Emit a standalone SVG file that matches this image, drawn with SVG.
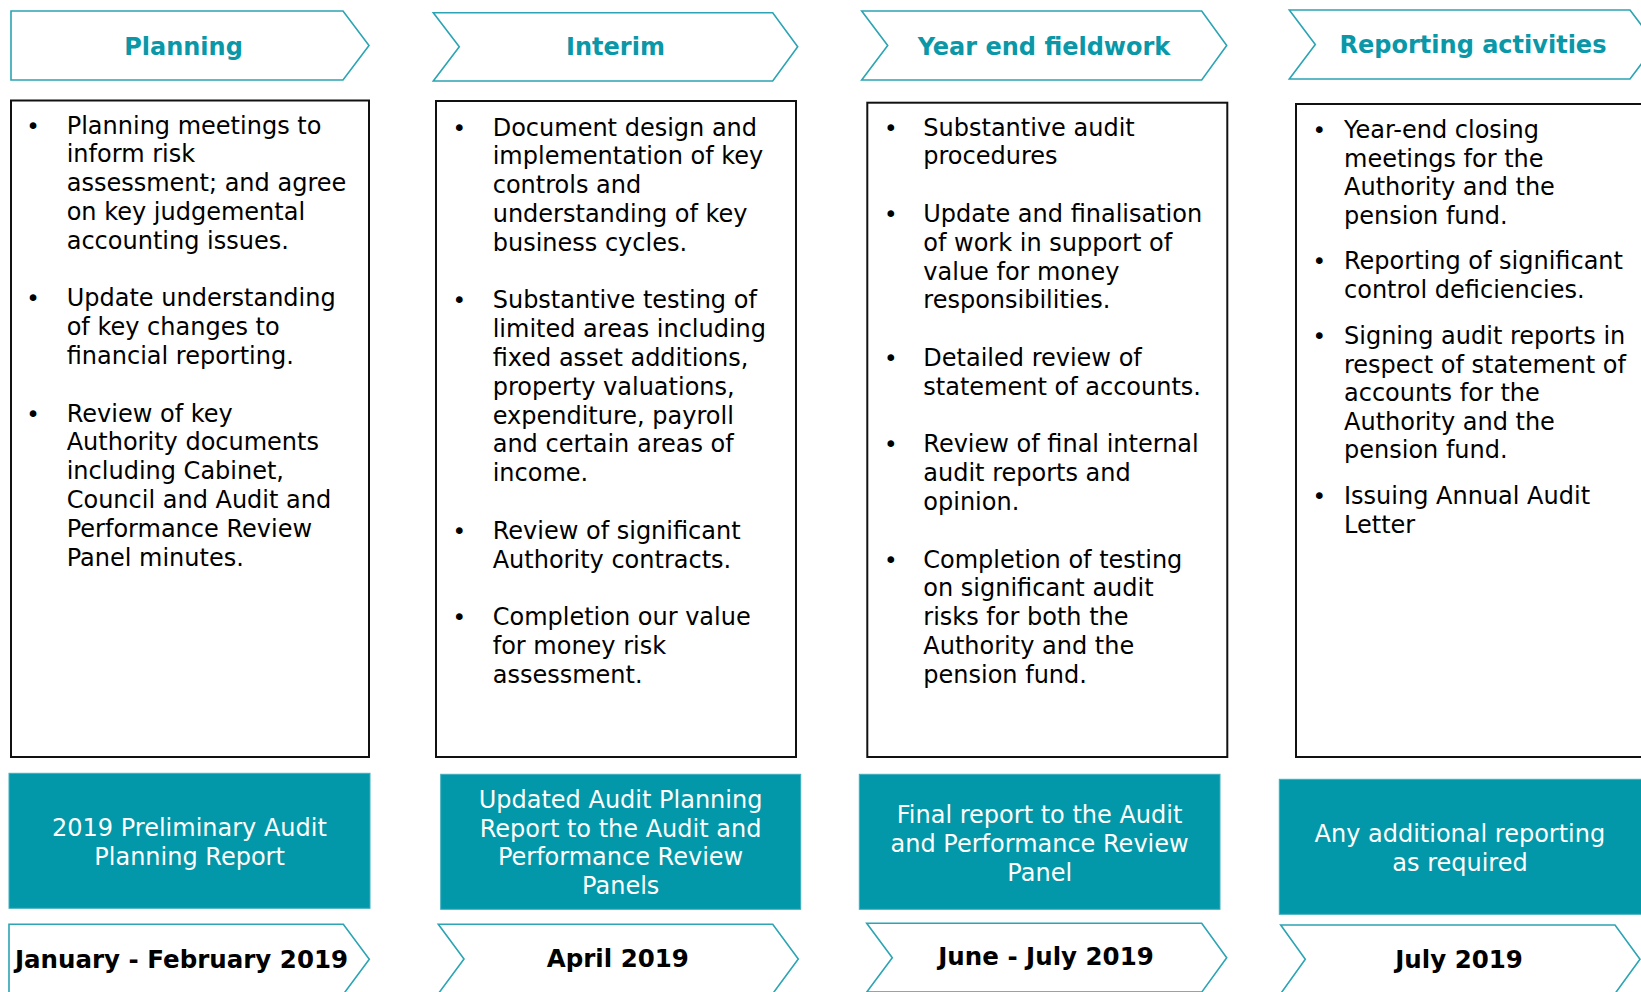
<svg xmlns="http://www.w3.org/2000/svg" width="1641" height="992" viewBox="0 0 1641 992">
  <style>
    .chev { fill: #ffffff; stroke: #2ba4b3; stroke-width: 1.6; }
    .hdr { font-family: "DejaVu Sans", Verdana, sans-serif; font-weight: bold; font-size: 24px; fill: #0a97a7; text-anchor: middle; }
    .date { font-family: "DejaVu Sans", Verdana, sans-serif; font-weight: bold; font-size: 24.5px; fill: #000000; text-anchor: middle; }
    .box { fill: #ffffff; stroke: #111111; stroke-width: 2; }
    .body { font-family: "DejaVu Sans", Verdana, sans-serif; font-size: 24px; fill: #000000; }
    .bul { font-family: "DejaVu Sans", Verdana, sans-serif; font-size: 23px; fill: #000000; text-anchor: middle; }
    .rep { fill: #0298a9; stroke: #3fb0bd; stroke-width: 1; }
    .reptxt { font-family: "DejaVu Sans", Verdana, sans-serif; font-size: 24px; fill: #ffffff; text-anchor: middle; }
  </style>

  <!-- Phase headers -->
  <g id="hdr-planning">
    <polygon class="chev" points="11,11 343,11 369,45.5 343,80 11,80"/>
    <text class="hdr" x="183.5" y="55">Planning</text>
  </g>
  <g id="hdr-interim">
    <polygon class="chev" points="433.3,12.7 772.7,12.7 797.7,46.8 772.7,81 433.3,81 459.3,46.8"/>
    <text class="hdr" x="615.5" y="55">Interim</text>
  </g>
  <g id="hdr-fieldwork">
    <polygon class="chev" points="861.7,11 1201.7,11 1226.7,45.5 1201.7,80 861.7,80 887.7,45.5"/>
    <text class="hdr" x="1044" y="54.5">Year end fieldwork</text>
  </g>
  <g id="hdr-reporting">
    <polygon class="chev" points="1289.3,10 1630,10 1656,44.5 1630,79 1289.3,79 1315.3,44.5"/>
    <text class="hdr" x="1473" y="53">Reporting activities</text>
  </g>

  <!-- Activity lists -->
  <g id="list-planning">
    <rect class="box" x="11" y="100.5" width="358" height="656.5"/>
    <text class="bul" x="33" y="133.5">•</text>
    <text class="bul" x="33" y="306.3">•</text>
    <text class="bul" x="33" y="421.5">•</text>
    <text class="body">
      <tspan x="66.7" y="133.5">Planning meetings to</tspan>
      <tspan x="66.7" y="162.3">inform risk</tspan>
      <tspan x="66.7" y="191.1">assessment; and agree</tspan>
      <tspan x="66.7" y="219.9">on key judgemental</tspan>
      <tspan x="66.7" y="248.7">accounting issues.</tspan>
      <tspan x="66.7" y="306.3">Update understanding</tspan>
      <tspan x="66.7" y="335.1">of key changes to</tspan>
      <tspan x="66.7" y="363.9">financial reporting.</tspan>
      <tspan x="66.7" y="421.5">Review of key</tspan>
      <tspan x="66.7" y="450.3">Authority documents</tspan>
      <tspan x="66.7" y="479.1">including Cabinet,</tspan>
      <tspan x="66.7" y="507.9">Council and Audit and</tspan>
      <tspan x="66.7" y="536.7">Performance Review</tspan>
      <tspan x="66.7" y="565.5">Panel minutes.</tspan>
    </text>
  </g>

  <g id="list-interim">
    <rect class="box" x="436" y="101" width="360" height="656"/>
    <text class="bul" x="459.3" y="135.5">•</text>
    <text class="bul" x="459.3" y="308.3">•</text>
    <text class="bul" x="459.3" y="538.7">•</text>
    <text class="bul" x="459.3" y="625.1">•</text>
    <text class="body">
      <tspan x="492.7" y="135.5">Document design and</tspan>
      <tspan x="492.7" y="164.3">implementation of key</tspan>
      <tspan x="492.7" y="193.1">controls and</tspan>
      <tspan x="492.7" y="221.9">understanding of key</tspan>
      <tspan x="492.7" y="250.7">business cycles.</tspan>
      <tspan x="492.7" y="308.3">Substantive testing of</tspan>
      <tspan x="492.7" y="337.1">limited areas including</tspan>
      <tspan x="492.7" y="365.9">fixed asset additions,</tspan>
      <tspan x="492.7" y="394.7">property valuations,</tspan>
      <tspan x="492.7" y="423.5">expenditure, payroll</tspan>
      <tspan x="492.7" y="452.3">and certain areas of</tspan>
      <tspan x="492.7" y="481.1">income.</tspan>
      <tspan x="492.7" y="538.7">Review of significant</tspan>
      <tspan x="492.7" y="567.5">Authority contracts.</tspan>
      <tspan x="492.7" y="625.1">Completion our value</tspan>
      <tspan x="492.7" y="653.9">for money risk</tspan>
      <tspan x="492.7" y="682.7">assessment.</tspan>
    </text>
  </g>

  <g id="list-fieldwork">
    <rect class="box" x="867.3" y="102.7" width="360" height="654.3"/>
    <text class="bul" x="890.7" y="135.5">•</text>
    <text class="bul" x="890.7" y="221.9">•</text>
    <text class="bul" x="890.7" y="365.9">•</text>
    <text class="bul" x="890.7" y="452.3">•</text>
    <text class="bul" x="890.7" y="567.5">•</text>
    <text class="body">
      <tspan x="923.3" y="135.5">Substantive audit</tspan>
      <tspan x="923.3" y="164.3">procedures</tspan>
      <tspan x="923.3" y="221.9">Update and finalisation</tspan>
      <tspan x="923.3" y="250.7">of work in support of</tspan>
      <tspan x="923.3" y="279.5">value for money</tspan>
      <tspan x="923.3" y="308.3">responsibilities.</tspan>
      <tspan x="923.3" y="365.9">Detailed review of</tspan>
      <tspan x="923.3" y="394.7">statement of accounts.</tspan>
      <tspan x="923.3" y="452.3">Review of final internal</tspan>
      <tspan x="923.3" y="481.1">audit reports and</tspan>
      <tspan x="923.3" y="509.9">opinion.</tspan>
      <tspan x="923.3" y="567.5">Completion of testing</tspan>
      <tspan x="923.3" y="596.3">on significant audit</tspan>
      <tspan x="923.3" y="625.1">risks for both the</tspan>
      <tspan x="923.3" y="653.9">Authority and the</tspan>
      <tspan x="923.3" y="682.7">pension fund.</tspan>
    </text>
  </g>

  <g id="list-reporting">
    <rect class="box" x="1296" y="104" width="370" height="653"/>
    <text class="bul" x="1319.3" y="138">•</text>
    <text class="bul" x="1319.3" y="269">•</text>
    <text class="bul" x="1319.3" y="344">•</text>
    <text class="bul" x="1319.3" y="504">•</text>
    <text class="body">
      <tspan x="1344" y="138">Year-end closing</tspan>
      <tspan x="1344" y="166.6">meetings for the</tspan>
      <tspan x="1344" y="195.2">Authority and the</tspan>
      <tspan x="1344" y="223.8">pension fund.</tspan>
      <tspan x="1344" y="269">Reporting of significant</tspan>
      <tspan x="1344" y="297.6">control deficiencies.</tspan>
      <tspan x="1344" y="344">Signing audit reports in</tspan>
      <tspan x="1344" y="372.6">respect of statement of</tspan>
      <tspan x="1344" y="401.2">accounts for the</tspan>
      <tspan x="1344" y="429.8">Authority and the</tspan>
      <tspan x="1344" y="458.4">pension fund.</tspan>
      <tspan x="1344" y="504">Issuing Annual Audit</tspan>
      <tspan x="1344" y="532.6">Letter</tspan>
    </text>
  </g>

  <!-- Reports issued -->
  <g id="rep-planning">
    <rect class="rep" x="9" y="773.3" width="361" height="135"/>
    <text class="reptxt">
      <tspan x="193.3" y="836">2019 Preliminary Audit</tspan>
      <tspan x="189.6" y="865">Planning Report</tspan>
    </text>
  </g>
  <g id="rep-interim">
    <rect class="rep" x="440.7" y="774.3" width="360" height="135"/>
    <text class="reptxt">
      <tspan x="624.4" y="807.7">Updated Audit Planning</tspan>
      <tspan x="624.4" y="836.7">Report to the Audit and</tspan>
      <tspan x="624.4" y="865.3">Performance Review</tspan>
      <tspan x="620.7" y="894.3">Panels</tspan>
    </text>
  </g>
  <g id="rep-fieldwork">
    <rect class="rep" x="859.3" y="774.3" width="360.7" height="135"/>
    <text class="reptxt">
      <tspan x="1043.4" y="823.3">Final report to the Audit</tspan>
      <tspan x="1043.4" y="852.3">and Performance Review</tspan>
      <tspan x="1039.7" y="881">Panel</tspan>
    </text>
  </g>
  <g id="rep-reporting">
    <rect class="rep" x="1279.3" y="779.3" width="370" height="135"/>
    <text class="reptxt">
      <tspan x="1463.7" y="841.7">Any additional reporting</tspan>
      <tspan x="1460" y="870.7">as required</tspan>
    </text>
  </g>

  <!-- Timing -->
  <g id="date-planning">
    <polygon class="chev" points="9,924.3 343.3,924.3 369.3,959.3 343.3,994.3 9,994.3"/>
    <text class="date" x="181.5" y="968.3">January - February 2019</text>
  </g>
  <g id="date-interim">
    <polygon class="chev" points="438.3,924.3 772.7,924.3 798.3,959 772.7,993.7 438.3,993.7 464,959"/>
    <text class="date" x="617.8" y="966.7">April 2019</text>
  </g>
  <g id="date-fieldwork">
    <polygon class="chev" points="866.7,923.3 1201.7,923.3 1226.7,957.7 1201.7,992.1 866.7,992.1 892.3,957.7"/>
    <text class="date" x="1046" y="965">June - July 2019</text>
  </g>
  <g id="date-reporting">
    <polygon class="chev" points="1280.7,925 1615,925 1640,959.3 1615,993.6 1280.7,993.6 1305.3,959.3"/>
    <text class="date" x="1459" y="968.3">July 2019</text>
  </g>

  <g id="connectors"/>
</svg>
